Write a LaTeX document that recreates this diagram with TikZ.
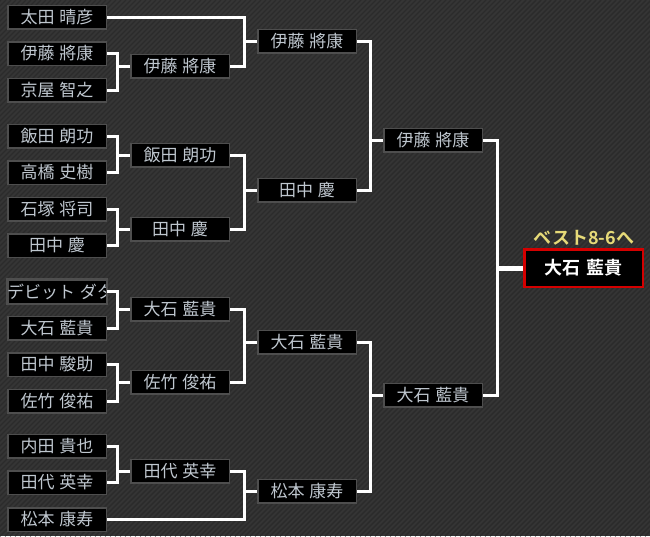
\documentclass[tikz,border=0pt]{standalone}
\usepackage{fontspec}
\setmainfont{Noto Sans CJK JP}[BoldFont={Noto Sans CJK JP Bold}, WordSpace=1.3]
\definecolor{bgc}{HTML}{353535}
\definecolor{stripec}{HTML}{2B2B2B}
\definecolor{boxborder}{HTML}{4E4E4E}
\definecolor{txtc}{HTML}{BFC7CF}
\definecolor{goldc}{HTML}{E6DA78}
\definecolor{redc}{HTML}{D40000}
\tikzset{
  player/.style={draw=boxborder, line width=1.5pt, fill=black, text=txtc,
    minimum width=98.5pt, minimum height=23.5pt, inner sep=0pt,
    font=\fontsize{17}{17}\selectfont},
  champ/.style={draw=redc, line width=2.5pt, fill=black, text=white,
    minimum width=118.5pt, minimum height=37.5pt, inner sep=0pt,
    font=\fontsize{18}{18}\selectfont\bfseries},
  conn/.style={draw=white, line width=3pt, line join=miter},
  stripe/.style={draw=stripec, line width=1.4pt}
}
\newcommand\matchup[4]{%
  \draw[conn] (#1.east) -| ([xshift=#4]#3.west) |- (#2.east);
  \draw[conn] ([xshift=#4]#3.west) -- (#3.west);}
\begin{document}
\begin{tikzpicture}[x=1pt,y=-1pt]
\useasboundingbox (0,0) rectangle (650,536);
\fill[bgc] (0,0) rectangle (650,536);
\begin{scope}
  \clip (0,0) rectangle (650,536);
  \foreach \i in {-540,-535,...,650} \draw[stripe] (\i,536) -- (\i+536,0);
\end{scope}
% round 1
\node[player] (r1a) at (57,17) {太田 晴彦};
\node[player] (r1b) at (57,53.5) {伊藤 將康};
\node[player] (r1c) at (57,90) {京屋 智之};
\node[player] (r1d) at (57,136) {飯田 朗功};
\node[player] (r1e) at (57,172.5) {高橋 史樹};
\node[player] (r1f) at (57,209) {石塚 将司};
\node[player] (r1g) at (57,245.5) {田中 慶};
\begin{scope}
  \clip (6.75,280) rectangle (106.25,303);
  \node[player] (r1h) at (57,291.5) {\makebox[98pt][l]{\hspace{-1pt}デビット ダタ}};
\end{scope}
\draw[boxborder, line width=1.5pt] (r1h.north west) rectangle (r1h.south east);
\node[player] (r1i) at (57,328) {大石 藍貴};
\node[player] (r1j) at (57,364.5) {田中 駿助};
\node[player] (r1k) at (57,401) {佐竹 俊祐};
\node[player] (r1l) at (57,446) {内田 貴也};
\node[player] (r1m) at (57,482.5) {田代 英幸};
\node[player] (r1n) at (57,519.5) {松本 康寿};
% round 2
\node[player] (r2a) at (180,66) {伊藤 將康};
\node[player] (r2b) at (180,155) {飯田 朗功};
\node[player] (r2c) at (180,229) {田中 慶};
\node[player] (r2d) at (180,309) {大石 藍貴};
\node[player] (r2e) at (180,382) {佐竹 俊祐};
\node[player] (r2f) at (180,471) {田代 英幸};
% round 3
\node[player] (r3a) at (307,41) {伊藤 將康};
\node[player] (r3b) at (307,190) {田中 慶};
\node[player] (r3c) at (307,342) {大石 藍貴};
\node[player] (r3d) at (307,491) {松本 康寿};
% round 4
\node[player] (r4a) at (433,140) {伊藤 將康};
\node[player] (r4b) at (433,395) {大石 藍貴};
% final
\node[champ] (fin) at (583.5,268) {大石 藍貴};
\node[text=goldc, font=\fontsize{18}{18}\selectfont\bfseries, inner sep=0pt] (lbl) at (584,238) {ベスト8-6へ};
% connectors
\matchup{r1b}{r1c}{r2a}{-13pt}
\matchup{r1a}{r2a}{r3a}{-13pt}
\matchup{r1d}{r1e}{r2b}{-13pt}
\matchup{r1f}{r1g}{r2c}{-13pt}
\matchup{r2b}{r2c}{r3b}{-13pt}
\matchup{r3a}{r3b}{r4a}{-13pt}
\matchup{r1h}{r1i}{r2d}{-13pt}
\matchup{r1j}{r1k}{r2e}{-13pt}
\matchup{r2d}{r2e}{r3c}{-13pt}
\matchup{r1l}{r1m}{r2f}{-13pt}
\matchup{r2f}{r1n}{r3d}{-13pt}
\matchup{r3c}{r3d}{r4b}{-13pt}
\draw[conn] (r4a.east) -| ([xshift=-26pt]fin.west) |- (r4b.east);
\draw[conn, line width=5pt] ([xshift=-26pt]fin.west) -- (fin.west);
\end{tikzpicture}
\end{document}
